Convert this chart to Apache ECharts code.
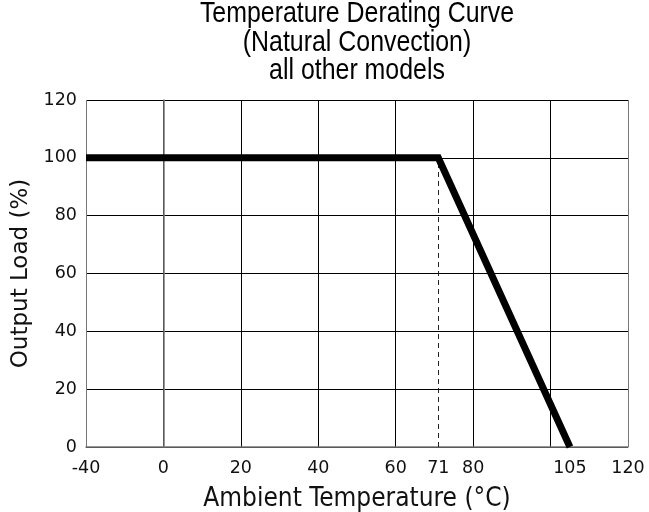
<!DOCTYPE html>
<html>
<head>
<meta charset="utf-8">
<script src="https://cdn.jsdelivr.net/npm/echarts@6/dist/echarts.min.js"></script>
<style>html,body{margin:0;padding:0;background:#fff}#c{width:649px;height:512px}</style>
</head>
<body>
<div id="c"></div>
<script>
// Data
var temperatures = [-40, 71, 105];   // °C
var loads = [100, 100, 0];           // Output load (%)
var xTickLabels = [-40, 0, 20, 40, 60, 71, 80, 105, 120];
var yTickLabels = [0, 20, 40, 60, 80, 100, 120];
var kneeTemp = 71;
var titleLines = ['Temperature Derating Curve', '(Natural Convection)', 'all other models'];

// The reference axis squeezes -40..0 into one grid column (same width as 20 °C)
function toAxis(t) { return t < 0 ? t / 2 : t; }
function fromAxis(v) { return v < 0 ? v * 2 : v; }

var chart = echarts.init(document.getElementById('c'), null, {renderer: 'canvas'});
var lineData = temperatures.map(function (t, i) { return [toAxis(t), loads[i]]; });

chart.setOption({
  animation: false,
  backgroundColor: '#fff',
  graphic: [{
    type: 'text',
    x: 357,
    y: 0,
    scaleX: 0.83,
    silent: true,
    style: {
      text: titleLines.join('\n'),
      x: 0,
      y: 0,
      align: 'center',
      verticalAlign: 'top',
      font: '30px "Liberation Sans", Arial, sans-serif',
      lineHeight: 28.3,
      fill: '#000'
    }
  }],
  grid: {left: 86, right: 21, top: 100, bottom: 65, containLabel: false, outerBoundsMode: 'none'},
  xAxis: {
    type: 'value',
    min: toAxis(-40),
    max: 120,
    interval: 20,
    name: 'Ambient Temperature (°C)',
    nameLocation: 'middle',
    nameGap: 39,
    nameTextStyle: {fontFamily: '"DejaVu Sans Condensed", "DejaVu Sans"', fontSize: 26, color: '#111'},
    axisLine: {show: true, onZero: false, lineStyle: {color: '#777', width: 1.5}},
    axisTick: {show: false},
    splitLine: {show: true, lineStyle: {color: ['#777', '#000', '#000', '#000', '#000', '#000', '#000', '#777'], width: 1}},
    axisLabel: {
      customValues: xTickLabels.map(toAxis),
      formatter: function (v) { return String(fromAxis(v)); },
      margin: 12,
      fontFamily: 'DejaVu Sans',
      fontSize: 17.5,
      color: '#111'
    }
  },
  yAxis: {
    type: 'value',
    min: 0,
    max: 120,
    interval: 20,
    name: 'Output Load (%)',
    nameLocation: 'middle',
    nameGap: 50,
    nameTextStyle: {fontFamily: 'DejaVu Sans', fontSize: 23, color: '#111'},
    axisLine: {show: true, lineStyle: {color: '#777', width: 1.5}},
    axisTick: {show: false},
    splitLine: {show: true, lineStyle: {color: '#000', width: 1}},
    axisLabel: {
      customValues: yTickLabels,
      margin: 9,
      fontFamily: 'DejaVu Sans',
      fontSize: 17.5,
      color: '#111'
    }
  },
  series: [{
    type: 'line',
    data: lineData,
    symbol: 'none',
    clip: false,
    lineStyle: {color: '#000', width: 7, join: 'miter', cap: 'butt'},
    markLine: {
      silent: true,
      symbol: 'none',
      label: {show: false},
      lineStyle: {color: '#222', width: 1, type: [5, 4]},
      data: [[{coord: [toAxis(kneeTemp), 0]}, {coord: [toAxis(kneeTemp), 100]}]]
    },
    z: 5
  }]
});
</script>
</body>
</html>
